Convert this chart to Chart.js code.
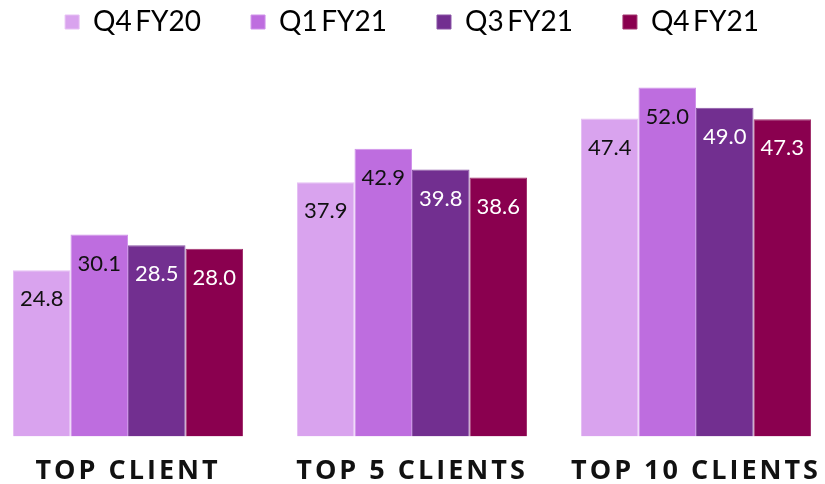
<!DOCTYPE html>
<html>
<head>
<meta charset="utf-8">
<script src="https://cdn.jsdelivr.net/npm/chart.js@4.4.0/dist/chart.umd.min.js"></script>
<style>
  html, body { margin: 0; padding: 0; background: #fff; overflow: hidden; }
  #wrap { position: absolute; left: -14px; top: 0; width: 852px; height: 484px; }
</style>
</head>
<body>
<div id="wrap"><canvas id="clientChart"></canvas></div>
<script>
const categories = ['TOP CLIENT', 'TOP 5 CLIENTS', 'TOP 10 CLIENTS'];
const seriesNames = ['Q4 FY20', 'Q1 FY21', 'Q3 FY21', 'Q4 FY21'];
const q4fy20 = [24.8, 37.9, 47.4];
const q1fy21 = [30.1, 42.9, 52.0];
const q3fy21 = [28.5, 39.8, 49.0];
const q4fy21 = [28.0, 38.6, 47.3];

const fills = ['#d9a3ee', '#be6ddf', '#722f90', '#8a004f'];
const edges = ['#e6c0f4', '#cf92ea', '#8b55a6', '#a2336f'];
const labelColors = ['#111', '#111', '#fff', '#fff'];

// value labels inside the bars + letter spacing for the category axis
const barLabels = {
    id: 'barLabels',
    afterDatasetsDraw(chart) {
        const ctx = chart.ctx;
        ctx.save();
        ctx.font = '22px Lato';
        ctx.textAlign = 'center';
        ctx.textBaseline = 'middle';
        chart.data.datasets.forEach((ds, i) => {
            chart.getDatasetMeta(i).data.forEach((bar, j) => {
                ctx.fillStyle = labelColors[i];
                ctx.fillText(ds.data[j].toFixed(1), bar.x, bar.y + 29);
            });
        });
        ctx.restore();
        ctx.letterSpacing = '3px';
    },
    afterDraw(chart) {
        chart.ctx.letterSpacing = '0px';
    },
};

new Chart(document.getElementById('clientChart'), {
    type: 'bar',
    data: {
        labels: categories,
        datasets: [q4fy20, q1fy21, q3fy21, q4fy21].map((d, i) => ({
            label: seriesNames[i],
            data: d,
            backgroundColor: fills[i],
            borderColor: edges[i],
            borderWidth: 1,
            categoryPercentage: 0.81,
            barPercentage: 1,
        })),
    },
    options: {
        responsive: true,
        maintainAspectRatio: false,
        animation: false,
        layout: { padding: { top: 0, bottom: -23 } },
        plugins: {
            legend: {
                display: true,
                labels: {
                    color: '#111',
                    font: { family: 'Lato', size: 28 },
                    boxWidth: 14,
                    boxHeight: 14,
                    padding: 8,
                    generateLabels(chart) {
                        return chart.data.datasets.map((ds, i) => ({
                            text: ds.label.replace(' ', '\u2009') + (i < 3 ? '\u2003\u2003' : ''),
                            fillStyle: fills[i],
                            strokeStyle: edges[i],
                            lineWidth: 1,
                            datasetIndex: i,
                        }));
                    },
                },
            },
            tooltip: { enabled: false },
        },
        scales: {
            x: {
                grid: { display: false, drawTicks: false },
                border: { display: false },
                ticks: {
                    z: 1,
                    color: '#111',
                    padding: 19,
                    font: { family: 'Open Sans', size: 27, weight: 'bold' },
                },
            },
            y: {
                display: false,
                beginAtZero: true,
                max: 58.2,
            },
        },
    },
    plugins: [barLabels],
});
</script>
</body>
</html>
